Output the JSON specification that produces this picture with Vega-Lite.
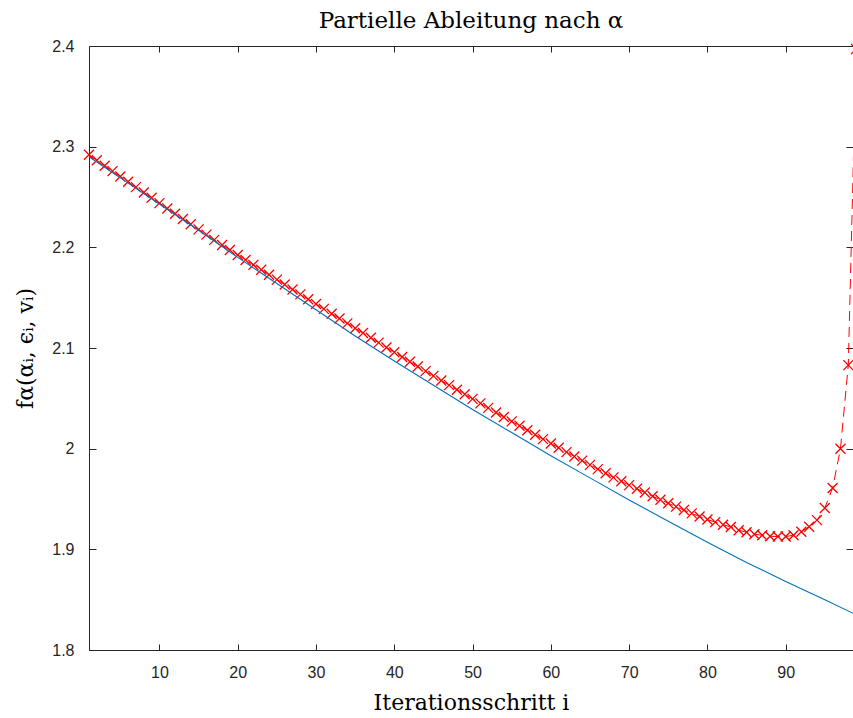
{
  "$schema": "https://vega.github.io/schema/vega-lite/v6.json",
  "autosize": "none",
  "width": 764,
  "height": 604,
  "padding": {"left": 89, "top": 46, "right": 0, "bottom": 68},
  "background": "white",
  "config": {
    "view": {"stroke": null},
    "axis": {
      "grid": false,
      "domainColor": "#262626",
      "domainWidth": 1,
      "tickColor": "#262626",
      "tickWidth": 1,
      "labelColor": "#262626",
      "labelFont": "Liberation Sans",
      "labelFontSize": 16,
      "titleColor": "#000000",
      "titleFont": "DejaVu Serif",
      "titleFontSize": 22,
      "titleFontWeight": "normal"
    }
  },
  "title": {
    "text": "Partielle Ableitung nach α",
    "font": "DejaVu Serif",
    "fontSize": 23,
    "fontWeight": "normal",
    "color": "#000000",
    "anchor": "middle",
    "offset": 5
  },
  "datasets": {
    "blue": [
      {"i": 1, "f": 2.290}, {"i": 5, "f": 2.269}, {"i": 10, "f": 2.243}, {"i": 15, "f": 2.217},
      {"i": 20, "f": 2.190}, {"i": 25, "f": 2.164}, {"i": 30, "f": 2.138}, {"i": 35, "f": 2.112},
      {"i": 40, "f": 2.087}, {"i": 45, "f": 2.063}, {"i": 50, "f": 2.039}, {"i": 55, "f": 2.016},
      {"i": 60, "f": 1.993}, {"i": 65, "f": 1.971}, {"i": 70, "f": 1.949}, {"i": 75, "f": 1.928},
      {"i": 80, "f": 1.907}, {"i": 85, "f": 1.887}, {"i": 90, "f": 1.868}, {"i": 95, "f": 1.850},
      {"i": 99, "f": 1.835}
    ],
    "red": [
      {"i": 1, "f": 2.292}, {"i": 2, "f": 2.2865}, {"i": 3, "f": 2.281}, {"i": 4, "f": 2.2757},
      {"i": 5, "f": 2.2704}, {"i": 6, "f": 2.2651}, {"i": 7, "f": 2.2598}, {"i": 8, "f": 2.2545},
      {"i": 9, "f": 2.2492}, {"i": 10, "f": 2.2439}, {"i": 11, "f": 2.2386}, {"i": 12, "f": 2.2334},
      {"i": 13, "f": 2.2282}, {"i": 14, "f": 2.223}, {"i": 15, "f": 2.2178}, {"i": 16, "f": 2.2126},
      {"i": 17, "f": 2.2074}, {"i": 18, "f": 2.2024}, {"i": 19, "f": 2.1974}, {"i": 20, "f": 2.1924},
      {"i": 21, "f": 2.1875}, {"i": 22, "f": 2.1826}, {"i": 23, "f": 2.1777}, {"i": 24, "f": 2.1728},
      {"i": 25, "f": 2.1679}, {"i": 26, "f": 2.163}, {"i": 27, "f": 2.1581}, {"i": 28, "f": 2.1533},
      {"i": 29, "f": 2.1485}, {"i": 30, "f": 2.1437}, {"i": 31, "f": 2.1389}, {"i": 32, "f": 2.1341},
      {"i": 33, "f": 2.1293}, {"i": 34, "f": 2.1245}, {"i": 35, "f": 2.1197}, {"i": 36, "f": 2.1149},
      {"i": 37, "f": 2.1101}, {"i": 38, "f": 2.1053}, {"i": 39, "f": 2.1005}, {"i": 40, "f": 2.0958},
      {"i": 41, "f": 2.0911}, {"i": 42, "f": 2.0864}, {"i": 43, "f": 2.0817}, {"i": 44, "f": 2.077},
      {"i": 45, "f": 2.0723}, {"i": 46, "f": 2.0677}, {"i": 47, "f": 2.0631}, {"i": 48, "f": 2.0585},
      {"i": 49, "f": 2.054}, {"i": 50, "f": 2.0495}, {"i": 51, "f": 2.045}, {"i": 52, "f": 2.0405},
      {"i": 53, "f": 2.036}, {"i": 54, "f": 2.0315}, {"i": 55, "f": 2.0271}, {"i": 56, "f": 2.0227},
      {"i": 57, "f": 2.0183}, {"i": 58, "f": 2.0139}, {"i": 59, "f": 2.0095}, {"i": 60, "f": 2.0052},
      {"i": 61, "f": 2.0009}, {"i": 62, "f": 1.9966}, {"i": 63, "f": 1.9923}, {"i": 64, "f": 1.9881},
      {"i": 65, "f": 1.9839}, {"i": 66, "f": 1.9797}, {"i": 67, "f": 1.9755}, {"i": 68, "f": 1.9715},
      {"i": 69, "f": 1.9676}, {"i": 70, "f": 1.9638}, {"i": 71, "f": 1.9601}, {"i": 72, "f": 1.9564},
      {"i": 73, "f": 1.9528}, {"i": 74, "f": 1.9493}, {"i": 75, "f": 1.9458}, {"i": 76, "f": 1.9424},
      {"i": 77, "f": 1.939}, {"i": 78, "f": 1.9357}, {"i": 79, "f": 1.9326}, {"i": 80, "f": 1.9297},
      {"i": 81, "f": 1.927}, {"i": 82, "f": 1.9245}, {"i": 83, "f": 1.9222}, {"i": 84, "f": 1.919},
      {"i": 85, "f": 1.917}, {"i": 86, "f": 1.915}, {"i": 87, "f": 1.914}, {"i": 88, "f": 1.913},
      {"i": 89, "f": 1.9127}, {"i": 90, "f": 1.9127}, {"i": 91, "f": 1.914}, {"i": 92, "f": 1.9175},
      {"i": 93, "f": 1.9225}, {"i": 94, "f": 1.929}, {"i": 95, "f": 1.941}, {"i": 96, "f": 1.961},
      {"i": 97, "f": 2.0}, {"i": 98, "f": 2.083}, {"i": 99, "f": 2.397}
    ]
  },
  "layer": [
    {
      "data": {"name": "red"},
      "mark": {"type": "line", "color": "#FF0000", "strokeWidth": 1, "strokeDash": [10, 6], "clip": false},
      "encoding": {
        "x": {
          "field": "i", "type": "quantitative",
          "scale": {"domain": [1, 98.6], "nice": false, "zero": false},
          "axis": {
            "orient": "bottom", "values": [10, 20, 30, 40, 50, 60, 70, 80, 90],
            "tickSize": -6, "labelPadding": 20,
            "title": "Iterationsschritt i", "titlePadding": 12
          }
        },
        "y": {
          "field": "f", "type": "quantitative",
          "scale": {"domain": [1.8, 2.4], "nice": false, "zero": false},
          "axis": {
            "orient": "left", "values": [1.8, 1.9, 2.0, 2.1, 2.2, 2.3, 2.4],
            "format": "~g", "tickSize": -7, "labelPadding": 22,
            "title": "fα(αᵢ, ϵᵢ, vᵢ)", "titlePadding": 14
          }
        }
      }
    },
    {
      "data": {"name": "red"},
      "mark": {
        "type": "point",
        "shape": "M-1,-1L1,1M-1,1L1,-1",
        "size": 100,
        "filled": false,
        "color": "#FF0000",
        "strokeWidth": 1.3,
        "opacity": 1,
        "clip": false
      },
      "encoding": {
        "x": {"field": "i", "type": "quantitative",
          "axis": {"orient": "top", "values": [10, 20, 30, 40, 50, 60, 70, 80, 90], "labels": false, "tickSize": -6, "title": null}},
        "y": {"field": "f", "type": "quantitative",
          "axis": {"orient": "right", "values": [1.8, 1.9, 2.0, 2.1, 2.2, 2.3, 2.4], "labels": false, "domain": false, "tickSize": -7, "title": null}}
      }
    },
    {
      "data": {"name": "blue"},
      "mark": {"type": "line", "color": "#0072BD", "strokeWidth": 1.1},
      "encoding": {
        "x": {"field": "i", "type": "quantitative", "axis": null},
        "y": {"field": "f", "type": "quantitative", "axis": null}
      }
    }
  ],
  "resolve": {"axis": {"x": "independent", "y": "independent"}}
}
